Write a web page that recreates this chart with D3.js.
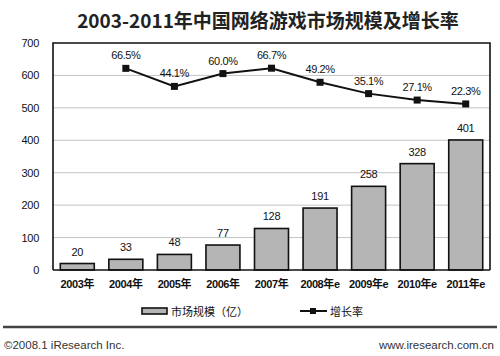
<!DOCTYPE html>
<html><head><meta charset="utf-8">
<script src="https://cdn.jsdelivr.net/npm/d3@7"></script>
<style>
body{margin:0;background:#fff}
svg{display:block}
text{font-family:"Liberation Sans",Arial,"Noto Sans CJK SC",sans-serif;fill:#111}
.cjk{font-family:"Noto Sans CJK SC",sans-serif}
</style></head><body>
<svg id="chart" width="500" height="356"></svg>
<script>
const title = "2003-2011年中国网络游戏市场规模及增长率";
const categories = ["2003年","2004年","2005年","2006年","2007年","2008年e","2009年e","2010年e","2011年e"];
const marketSize = [20,33,48,77,128,191,258,328,401];
const growthRate = [null,66.5,44.1,60.0,66.7,49.2,35.1,27.1,22.3];
const yTicks = [0,100,200,300,400,500,600,700];
const legendLabels = ["市场规模（亿）","增长率"];
const footerLeft = "©2008.1 iResearch Inc.";
const footerRight = "www.iresearch.com.cn";

const svg = d3.select("#chart");
const L = 53, R = 490, T = 43, B = 270;

const x = d3.scaleBand().domain(categories).range([L, R]).paddingInner(0.3).paddingOuter(0.15);
const y = d3.scaleLinear().domain([0, 700]).range([B, T]);
const y2 = d3.scaleLinear().domain([-184, 98]).range([B, T]);

// title
svg.append("text").attr("class","cjk").attr("x",268).attr("y",28)
  .attr("text-anchor","middle").attr("font-size",19).attr("font-weight","bold")
  .style("fill","#222").text(title);

// gridlines
svg.append("g").selectAll("line").data(yTicks.filter(d=>d>0 && d<700)).join("line")
  .attr("x1",L).attr("x2",R).attr("y1",d=>y(d)).attr("y2",d=>y(d))
  .attr("stroke","#c4c4c4").attr("stroke-width",1);

// y axis labels
const yAxis = d3.axisLeft(y).tickValues(yTicks).tickSize(0).tickPadding(14);
const gy = svg.append("g").attr("transform",`translate(${L},0)`).call(yAxis);
gy.select(".domain").remove();
gy.selectAll("text").attr("font-size",11).style("font-family","'Liberation Sans',Arial,sans-serif").attr("letter-spacing","-0.3");

// bars
svg.append("g").selectAll("rect").data(marketSize).join("rect")
  .attr("x",(d,i)=>x(categories[i])).attr("width",x.bandwidth())
  .attr("y",d=>y(d)).attr("height",d=>B-y(d))
  .attr("fill","#b5b5b5").attr("stroke","#111").attr("stroke-width",1.6);

// bar labels
svg.append("g").selectAll("text").data(marketSize).join("text")
  .attr("x",(d,i)=>x(categories[i])+x.bandwidth()/2).attr("y",d=>y(d)-8)
  .attr("text-anchor","middle").attr("font-size",11).attr("letter-spacing","-0.3")
  .text(d=>d);

// plot frame
svg.append("path").attr("d",`M${L},${B}V${T}H${R}V${B}`).attr("fill","none")
  .attr("stroke","#111").attr("stroke-width",1.6);
// x axis
const xAxis = d3.axisBottom(x).tickSize(0).tickPadding(10);
const gx = svg.append("g").attr("transform",`translate(0,${B})`).call(xAxis);
gx.select(".domain").attr("stroke","#111").attr("stroke-width",1.6).attr("d",`M${L},0H${R}`);
gx.selectAll("text").attr("font-size",11).attr("font-weight","bold").attr("letter-spacing","-0.4")
  .style("font-family","'Liberation Sans','Noto Sans CJK SC',sans-serif");

// growth line
const pts = growthRate.map((v,i)=>({v,c:categories[i]})).filter(d=>d.v!==null);
const cx = d=>x(d.c)+x.bandwidth()/2;
svg.append("path").datum(pts)
  .attr("d",d3.line().x(cx).y(d=>y2(d.v)))
  .attr("fill","none").attr("stroke","#111").attr("stroke-width",2);
svg.append("g").selectAll("rect").data(pts).join("rect")
  .attr("x",d=>cx(d)-3.5).attr("y",d=>y2(d.v)-3.5).attr("width",7).attr("height",7).attr("fill","#111");
svg.append("g").selectAll("text").data(pts).join("text")
  .attr("x",cx).attr("y",d=>y2(d.v)-9)
  .attr("text-anchor","middle").attr("font-size",11).attr("letter-spacing","-0.4")
  .text(d=>d.v.toFixed(1)+"%");

// legend
const lg = svg.append("g");
lg.append("rect").attr("x",142).attr("y",308).attr("width",25).attr("height",6)
  .attr("fill","#b5b5b5").attr("stroke","#111").attr("stroke-width",1.6);
lg.append("text").attr("class","cjk").attr("x",171).attr("y",315.5).attr("font-size",11).text(legendLabels[0]);
lg.append("line").attr("x1",300).attr("x2",327).attr("y1",311).attr("y2",311).attr("stroke","#111").attr("stroke-width",2);
lg.append("rect").attr("x",310).attr("y",308).attr("width",6).attr("height",6).attr("fill","#111");
lg.append("text").attr("class","cjk").attr("x",330).attr("y",315.5).attr("font-size",11).text(legendLabels[1]);

// footer
svg.append("line").attr("x1",3).attr("x2",497).attr("y1",327).attr("y2",327).attr("stroke","#444").attr("stroke-width",2.5);
svg.append("text").attr("x",4).attr("y",349).attr("font-size",11.5).style("fill","#333").text(footerLeft);
svg.append("text").attr("x",494).attr("y",349).attr("text-anchor","end").attr("font-size",11.5).style("fill","#333").text(footerRight);
</script>
</body></html>
